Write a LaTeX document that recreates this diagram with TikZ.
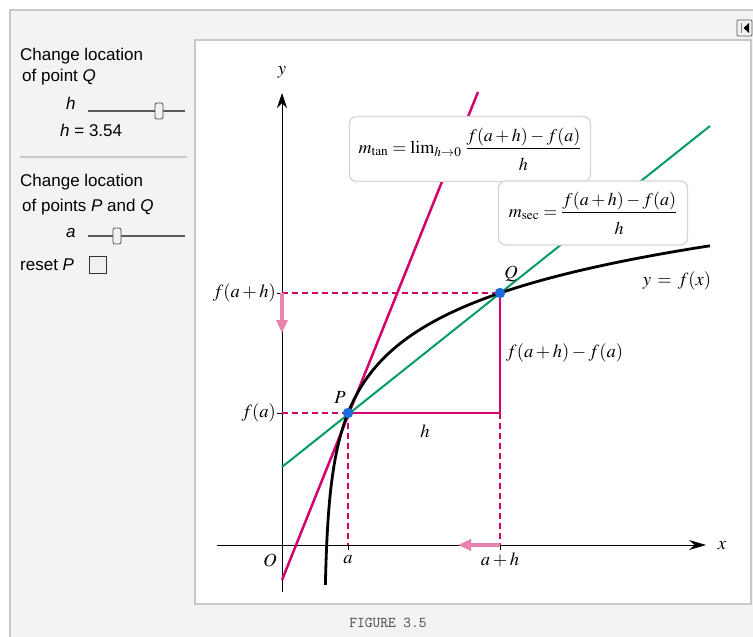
\documentclass[tikz,border=0pt]{standalone}
\usepackage{amsmath}
\usepackage{mathptmx}
\usepackage[no-math]{fontspec}
\setsansfont{Liberation Sans}
\usetikzlibrary{arrows.meta}
\definecolor{magent}{RGB}{212,0,110}
\definecolor{secgreen}{RGB}{0,155,105}
\definecolor{dotblue}{RGB}{25,110,215}
\definecolor{pinkarr}{RGB}{232,130,175}
\definecolor{panelbg}{RGB}{243,243,243}
\definecolor{frameg}{RGB}{200,200,200}
\definecolor{boxg}{RGB}{215,215,215}
\definecolor{trackg}{RGB}{90,90,90}
\newcommand{\numr}[1]{\rule[-5pt]{0pt}{5pt}#1}
\newcommand{\denr}[1]{\rule{0pt}{19pt}#1}
\begin{document}
\begin{tikzpicture}[x=1pt,y=-1pt,
  mlab/.style={font=\fontsize{18.5}{22}\selectfont, inner sep=1pt},
  ui/.style={font=\sffamily\fontsize{17}{20}\selectfont, anchor=west, inner sep=0pt},
  fbox/.style={draw=boxg, fill=white, line width=1.4pt, rounded corners=7pt,
    font=\fontsize{18}{21}\selectfont, inner sep=0pt},
  dashmag/.style={draw=magent, line width=1.1pt, dash pattern=on 6pt off 4pt},
  solmag/.style={draw=magent, line width=1.3pt},
  pinkarrow/.style={pinkarr, line width=3.5pt, -{Triangle[length=13pt,width=11pt]}},
  track/.style={trackg, line width=1.8pt},
  thumb/.style={fill=white!90!gray, draw=gray!60!black, rounded corners=2pt, line width=0.8pt},
  dot/.style={circle, fill=dotblue, inner sep=0pt, minimum size=10.5pt}]
\useasboundingbox (0,0) rectangle (753,637);
\fill[white] (0,0) rectangle (753,637);
\fill[panelbg] (10,10) rectangle (753,637);
\draw[frameg, line width=1.5pt] (10,637) -- (10,10) -- (753,10);
\filldraw[fill=white, draw=frameg, line width=1.5pt] (195,40) rectangle (751,604);
% top-right button
\filldraw[fill=panelbg, draw=gray!70!black, line width=0.8pt, rounded corners=1pt] (737,20) rectangle (752,36);
\draw[gray, line width=1pt] (741,23) -- (741,33);
\fill[black] (749,23) -- (743.5,28) -- (749,33) -- cycle;

% left controls
\node[ui] (t1) at (20,56) {Change location};
\node[ui] (t2) at (22,77) {of point \textit{Q}};
\node[ui] (th) at (66,103) {\textit{h}};
\draw[track] (88,111) coordinate (s1a) -- (185,111) coordinate (s1b);
\draw[thumb] (155,103) rectangle (163,119);
\node[ui] (hv) at (60,130) {\textit{h} = 3.54};
\draw[frameg, line width=1.2pt] (20,157) -- (187,157);
\node[ui] (t3) at (20,182) {Change location};
\node[ui] (t4) at (22,207) {of points \textit{P} and \textit{Q}};
\node[ui] (ta) at (66,233) {\textit{a}};
\draw[track] (88,236) coordinate (s2a) -- (185,236) coordinate (s2b);
\draw[thumb] (113,228) rectangle (121,244);
\node[ui] (rp) at (20,265) {reset \textit{P}};
\filldraw[fill=white!88!gray, draw=gray!40!black, line width=0.8pt] (89,256) rectangle (106,273);

% coordinates
\coordinate (P) at (348,413);
\coordinate (Q) at (500,293);
\coordinate (C) at (500,413);
\coordinate (ya) at (282,413);
\coordinate (yah) at (282,293);
\coordinate (xa) at (348,545);
\coordinate (xah) at (500,545);

% axes
\draw[line width=0.8pt, -{Stealth[length=17pt,width=10pt]}] (217,545) coordinate (xs) -- (706,545) coordinate (xe);
\draw[line width=0.8pt, -{Stealth[length=15pt,width=10pt]}] (282,592) coordinate (ys) -- (282,93) coordinate (ye);
\draw[line width=0.8pt] (277,413) -- (ya) (277,293) -- (yah) (348,545) -- (348,550) (500,545) -- (500,550);

% dashed guides
\draw[dashmag] (ya) -- (P);
\draw[dashmag] (yah) -- (Q);
\draw[dashmag] (P) -- (xa);
\draw[dashmag] (C) -- (xah);
\draw[solmag] (P) -- (C) -- (Q);

% pink arrows
\draw[pinkarrow] (yah) -- (282,333);
\draw[pinkarrow] (xah) -- (458,545);

% tangent and secant lines
\draw[magent, line width=2.5pt] (282,580) coordinate (t0) -- (478,92) coordinate (t1e);
\draw[secgreen, line width=2pt] (282,467) coordinate (s0) -- (710,126) coordinate (s1e);

% curve
\draw[line width=2.8pt, line join=round] plot[domain=0.322:5.956, samples=160, smooth] ({324+exp(\x)}, {413-60.2*(\x-3.178)});

% points
\node[dot] (Pd) at (P) {};
\node[dot] (Qd) at (Q) {};

% formula boxes
\node[fbox, minimum width=241pt, minimum height=65pt] (mtan) at (470,149)
  {$m_{\mathrm{tan}} = \lim\nolimits_{h\to 0}\,\dfrac{\numr{f(a+h)-f(a)}}{\denr{h}}$};
\node[fbox, minimum width=189pt, minimum height=64pt] (msec) at (593,213)
  {$m_{\mathrm{sec}} = \dfrac{\numr{f(a+h)-f(a)}}{\denr{h}}$};

% labels
\node[mlab] (ly) at (282,72) {$y$};
\node[mlab] (lx) at (722,546) {$x$};
\node[mlab] (lO) at (270,560) {$O$};
\node[mlab] (la) at (348,560) {$a$};
\node[mlab] (lah) at (500,560) {$a+h$};
\node[mlab, anchor=east] (lfa) at (277,413) {$f(a)$};
\node[mlab, anchor=east] (lfah) at (277,293) {$f(a+h)$};
\node[mlab] (lP) at (340,397) {$P$};
\node[mlab] (lQ) at (511,274) {$Q$};
\node[mlab] (lf) at (677,281) {$y\,=\,f(x)$};
\node[mlab, anchor=west] (ld) at (505,353) {$f(a+h)-f(a)$};
\node[mlab] (lh) at (425,431) {$h$};

% caption
\node[font=\ttfamily\fontsize{15}{18}\selectfont, text=black!72] (cap) at (388,623) {FIGURE 3.5};
\end{tikzpicture}
\end{document}
